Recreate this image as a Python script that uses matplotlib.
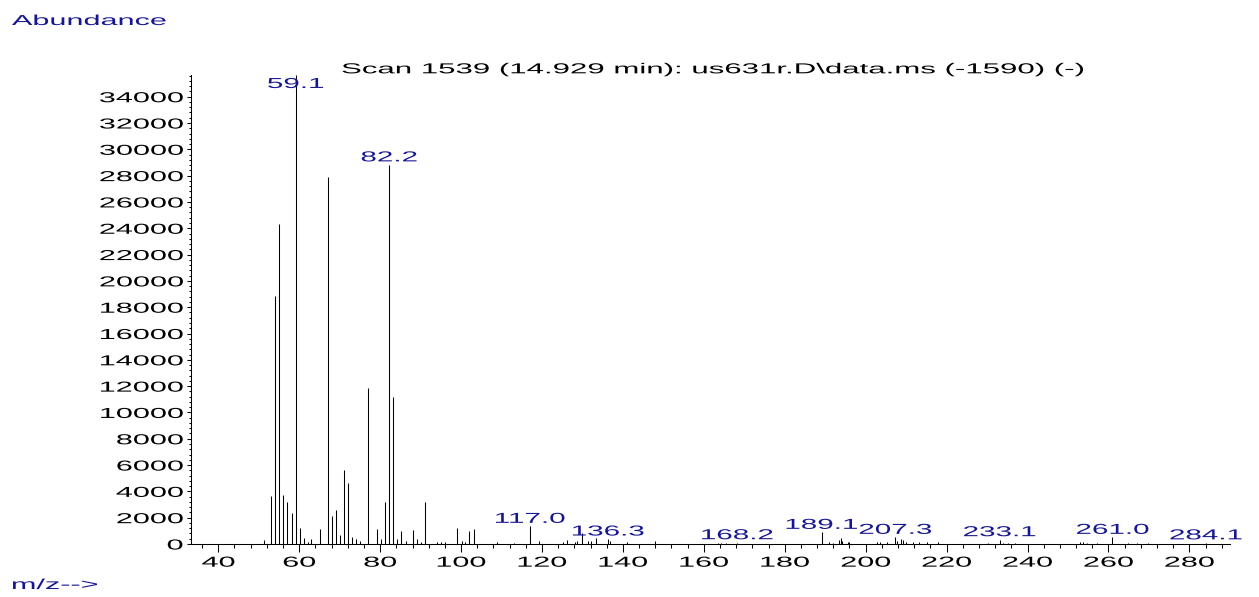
import matplotlib
matplotlib.use("Agg")
import matplotlib.pyplot as plt
from matplotlib.patheffects import AbstractPathEffect
from matplotlib.transforms import Affine2D
from matplotlib.ticker import MultipleLocator

plt.rcParams['font.family'] = ['Liberation Sans', 'DejaVu Sans']

# spectrum (scan 1539), m/z and abundance
mz = [51.3, 53.1, 54.1, 55.1, 56.1, 57.1, 58.1, 59.1, 60.1, 61.1, 62.1, 63.0,
      65.1, 67.1, 68.1, 69.1, 70.1, 71.1, 72.1, 73.1, 74.1, 75.0, 77.1, 79.1,
      80.1, 81.1, 82.2, 83.1, 84.1, 85.1, 86.5, 88.0, 89.1, 90.0, 91.1, 94.0,
      95.0, 96.1, 99.1, 100.2, 101.0, 102.0, 103.1, 109.0, 113.2, 117.0, 119.3,
      125.1, 126.1, 128.2, 128.7, 130.0, 131.4, 132.0, 133.3, 136.3, 136.8,
      141.1, 148.0, 163.6, 164.2, 165.6, 168.2, 189.1, 190.9, 192.0, 193.5,
      193.8, 194.2, 195.6, 196.0, 202.7, 203.5, 205.2, 207.3, 207.8, 208.7,
      209.3, 210.0, 211.6, 213.2, 215.1, 217.9, 230.3, 233.1, 233.9, 235.3,
      236.9, 253.0, 253.6, 254.6, 257.3, 261.0, 264.9, 267.0, 269.9, 284.1]
abundance = [330, 3620, 18830, 24330, 3750, 3190, 2360, 35640, 1216, 456, 130, 380,
             1140, 27900, 2150, 2560, 710, 5600, 4640, 530, 380, 200, 11860, 1170,
             405, 3190, 28820, 11150, 405, 960, 200, 1090, 400, 150, 3190, 177,
             127, 127, 1216, 228, 152, 1013, 1140, 127, 100, 1343, 228,
             152, 304, 177, 203, 860, 228, 200, 456, 380, 228,
             150, 228, 70, 70, 60, 100, 887, 177, 100, 304,
             456, 253, 150, 150, 150, 127, 177, 507, 228, 405,
             304, 150, 150, 177, 150, 150, 80, 330, 90, 80,
             100, 177, 127, 100, 76, 507, 76, 76, 50, 90]

labelled = [59.1, 82.2, 117.0, 136.3, 168.2, 189.1, 207.3, 233.1, 261.0, 284.1]

title = "Scan 1539 (14.929 min): us631r.D\\data.ms (-1590) (-)"
navy = '#161690'
ymax = 35650


class Stretch(AbstractPathEffect):
    """widen the glyphs sideways, keeping one edge (or the middle) fixed"""
    def __init__(self, sx=2.12, anchor='center'):
        super().__init__()
        self.sx = sx
        self.anchor = anchor

    def draw_path(self, renderer, gc, tpath, affine, rgbFace=None):
        ext = tpath.get_extents(affine)
        xa = {'left': ext.x0, 'center': (ext.x0 + ext.x1) / 2, 'right': ext.x1}[self.anchor]
        st = Affine2D().translate(-xa, 0).scale(self.sx, 1).translate(xa, 0)
        renderer.draw_path(gc, tpath, affine + st, rgbFace)


fs = 10.4
fig = plt.figure(figsize=(12.59, 5.97), dpi=100)
ax = fig.add_axes([191 / 1259, 53 / 597, 1039 / 1259, 469 / 597])

ax.vlines(mz, 0, abundance, colors='black', lw=0.75)
ax.set_xlim(33.25, 290.05)
ax.set_ylim(0, ymax)

for s in ['top', 'right']:
    ax.spines[s].set_visible(False)
for s in ['left', 'bottom']:
    ax.spines[s].set_linewidth(0.75)

ax.set_xticks(range(40, 281, 20))
ax.xaxis.set_minor_locator(MultipleLocator(4))
ax.set_yticks(range(0, 34001, 2000))
ax.yaxis.set_minor_locator(MultipleLocator(400))
ax.tick_params(axis='x', which='major', length=5.8, width=0.75, pad=2.6, labelsize=fs)
ax.tick_params(axis='x', which='minor', length=3.2, width=0.75)
ax.tick_params(axis='y', which='major', length=2.9, width=0.75, pad=3.0, labelsize=fs)
ax.tick_params(axis='y', which='minor', length=1.5, width=0.75)

for t in ax.get_xticklabels():
    t.set_path_effects([Stretch(2.12, 'center')])
for t in ax.get_yticklabels():
    t.set_path_effects([Stretch(2.12, 'right')])

# peak labels sit just above their line; the base peak one is kept inside the frame
for m in labelled:
    h = abundance[mz.index(m)]
    ax.annotate(f"{m:.1f}", xy=(m, min(h, ymax - 1250)), xytext=(0, 2.5),
                textcoords='offset points', ha='center', va='baseline',
                color=navy, fontsize=fs, annotation_clip=False,
                path_effects=[Stretch(2.05, 'center')])

ax.text(0.502, 1.0036, title, transform=ax.transAxes, ha='center', va='baseline',
        fontsize=fs, color='black', path_effects=[Stretch(2.16, 'center')])

fig.text(12 / 1259, 1 - 25 / 597, "Abundance", ha='left', va='baseline',
         fontsize=fs, color=navy, path_effects=[Stretch(2.12, 'left')])
fig.text(12 / 1259, 1 - 589 / 597, "m/z-->", ha='left', va='baseline',
         fontsize=fs, color=navy, path_effects=[Stretch(2.12, 'left')])

fig.savefig('out.png', dpi=100)
